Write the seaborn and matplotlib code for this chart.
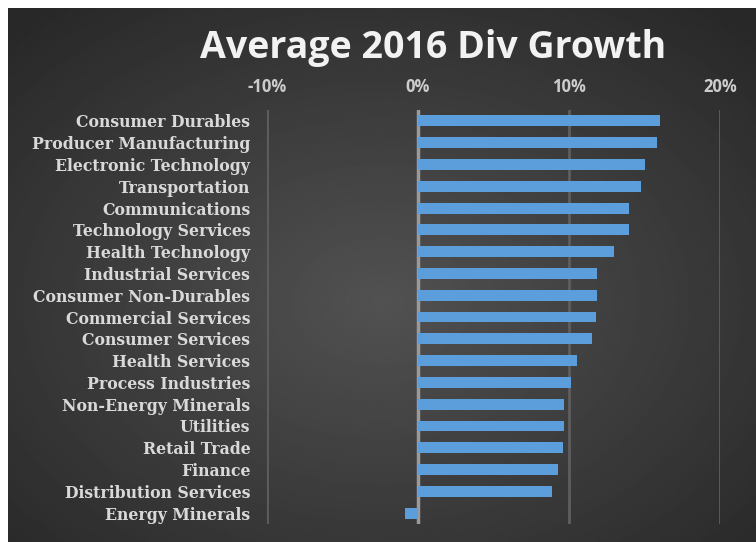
import numpy as np
import pandas as pd
import matplotlib
matplotlib.use("Agg")
import matplotlib.pyplot as plt
from matplotlib.ticker import FuncFormatter
import seaborn as sns

# data
sectors = [
    "Consumer Durables", "Producer Manufacturing", "Electronic Technology",
    "Transportation", "Communications", "Technology Services",
    "Health Technology", "Industrial Services", "Consumer Non-Durables",
    "Commercial Services", "Consumer Services", "Health Services",
    "Process Industries", "Non-Energy Minerals", "Utilities",
    "Retail Trade", "Finance", "Distribution Services", "Energy Minerals",
]
div_growth = [16.0, 15.8, 15.0, 14.8, 14.0, 14.0, 13.0, 11.85, 11.85,
              11.8, 11.5, 10.5, 10.1, 9.7, 9.7, 9.6, 9.3, 8.9, -0.85]
x_ticks = [-10, 0, 10, 20]

df = pd.DataFrame({"Sector": sectors, "Growth": div_growth})

sns.set_theme(style="dark")
W, H = 756, 542
fig = plt.figure(figsize=(W / 100, H / 100), dpi=100)
fig.patch.set_facecolor("white")

# background panel with radial gradient
bg = fig.add_axes([8 / W, 0, (W - 8) / W, (H - 8) / H])
bg.set_axis_off()
yy, xx = np.mgrid[0:1:300j, 0:1:400j]
r = np.sqrt(((xx - 0.5) / 0.75) ** 2 + ((yy - 0.55) / 0.75) ** 2)
shade = np.clip(0.32 - 0.17 * r, 0.16, 0.32)
bg.imshow(shade, cmap="gray", vmin=0, vmax=1, aspect="auto",
          extent=[0, 1, 0, 1], interpolation="bilinear")

# main plot area
left, right, top, bottom = 267, 720, 110, 524
ax = fig.add_axes([left / W, (H - bottom) / H, (right - left) / W, (bottom - top) / H])
ax.patch.set_alpha(0)

sns.barplot(data=df, x="Growth", y="Sector", orient="h", color="#5c9ddb",
            width=0.5, saturation=1, linewidth=0, edgecolor="none", ax=ax, zorder=3)

ax.set_xlim(-10, 20)
ax.set_ylim(len(sectors) - 0.5, -0.5)
ax.set_xticks(x_ticks)
ax.xaxis.set_major_formatter(FuncFormatter(lambda v, p: f"{v:.0f}%"))
ax.xaxis.tick_top()
ax.set_xlabel("")
ax.set_ylabel("")
ax.grid(axis="x", color="#5e5e5e", linewidth=2, zorder=0)
ax.grid(axis="y", visible=False)
ax.axvline(0, color="#9a9a9a", linewidth=2.5, zorder=2)
for s in ax.spines.values():
    s.set_visible(False)

ax.tick_params(axis="x", length=0, pad=10, labelcolor="#cccccc", labelsize=12)
for lbl in ax.get_xticklabels():
    lbl.set_fontweight("bold")
    lbl.set_family("Open Sans")
ax.tick_params(axis="y", length=0, pad=12, labelcolor="#d9d9d9", labelsize=11.3)
for lbl in ax.get_yticklabels():
    lbl.set_fontweight("bold")
    lbl.set_family("DejaVu Serif")

fig.text(433 / W, 1 - 48 / H, "Average 2016 Div Growth", ha="center", va="center",
         color="#f2f2f2", fontsize=27, fontweight="bold", family="Open Sans")

fig.savefig("out.png", dpi=100)
